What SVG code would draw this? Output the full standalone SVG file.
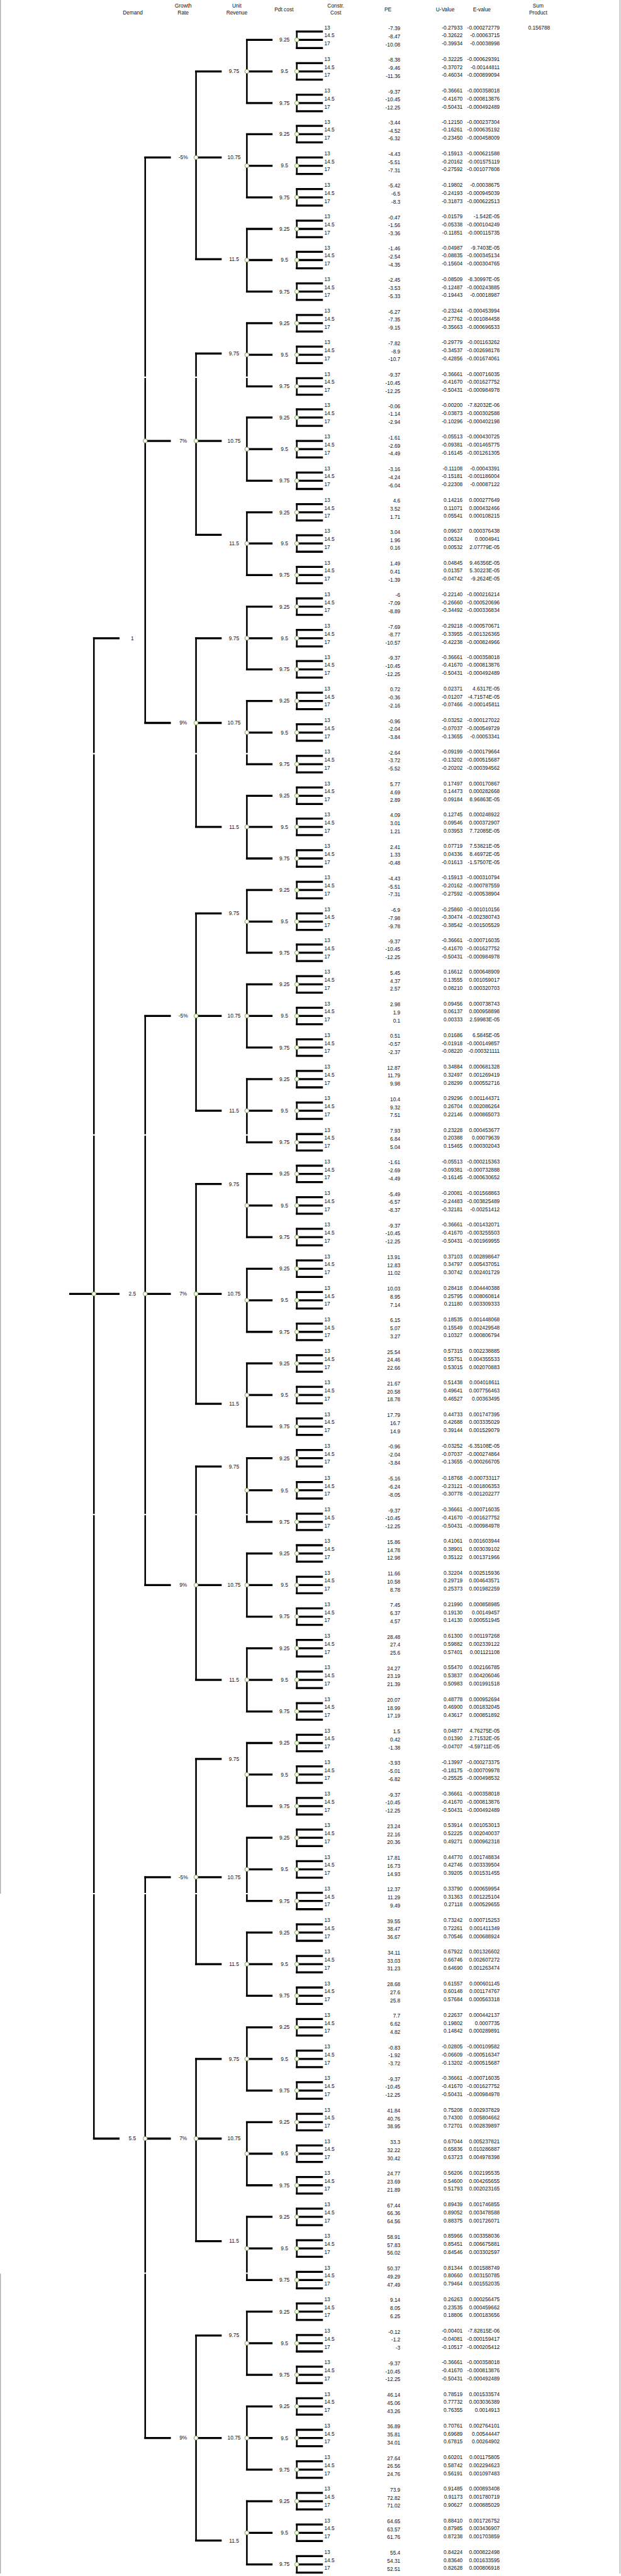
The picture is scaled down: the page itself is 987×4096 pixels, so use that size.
<svg xmlns="http://www.w3.org/2000/svg" xmlns:xlink="http://www.w3.org/1999/xlink" width="987" height="4096" viewBox="0 0 987 4096">
<style>
.h{stroke:#000;stroke-width:4.5;fill:none}
.v{stroke:#000;stroke-width:3.5;fill:none;stroke-linecap:square}
.nd{fill:#fff;stroke:#6f9a3f;stroke-width:1.3}
text{font-family:"Liberation Sans",Arial,sans-serif;font-size:11.5px;fill:#111}
.m{text-anchor:middle}
.e{text-anchor:end}
</style>
<defs>
<g id="br"><path class="h" d="M537 27H595M646 9H705M646 27H705M646 45H705"/><path class="v" d="M648 9V45"/></g>
</defs>
<rect width="987" height="4096" fill="#fff"/>
<g transform="scale(0.728)">
<path d="M1 0V4136M1 4966V5621M1353.5 0V5621" stroke="#9a9a9a" stroke-width="1.5" fill="none"/>
<g id="header">
<text class="m" x="290" y="32">Demand</text>
<text class="m" x="400" y="17">Growth</text><text class="m" x="400" y="32">Rate</text>
<text class="m" x="517" y="17">Unit</text><text class="m" x="517" y="32">Revenue</text>
<text class="m" x="620" y="25">Pdt cost</text>
<text class="m" x="733" y="17">Constr.</text><text class="m" x="733" y="32">Cost</text>
<text class="m" x="847" y="25">PE</text>
<text class="m" x="972" y="25">U-Value</text>
<text class="m" x="1052" y="25">E-value</text>
<text class="m" x="1175" y="17">Sum</text><text class="m" x="1175" y="32">Product</text>
<text class="m" x="1177" y="64">0.156788</text>
</g>
<g id="connectors">
<path class="h" d="M151 2826H261M203 1394H261M203 4671H261M315 344H373M315 963H373M315 1579H373M315 2219H373M315 2826H373M315 3462H373M315 4100H373M315 4671H373M315 5325H373M426 156H484M426 344H484M426 566H484M426 772H484M426 963H484M426 1168H484M426 1394H484M426 1579H484M426 1806H484M426 1995H484M426 2219H484M426 2426H484M426 2586H484M426 2826H484M426 3066H484M426 3203H484M426 3462H484M426 3669H484M426 3842H484M426 4100H484M426 4290H484M426 4497H484M426 4671H484M426 4895H484M426 5101H484M426 5325H484M426 5549H484"/>
<path class="v" d="M205 1394V4671M317 344V1579M317 2219V3462M317 4100V5325M428 156V566M428 772V1168M428 1394V1806M428 1995V2426M428 2586V3066M428 3203V3669M428 3842V4290M428 4497V4895M428 5101V5549M539 87V225M539 293V431M539 500V637M539 706V844M539 912V1050M539 1119V1256M539 1325V1462M539 1531V1669M539 1738V1875M539 1944V2081M539 2150V2288M539 2357V2495M539 2564V2702M539 2771V2909M539 2978V3116M539 3185V3324M539 3393V3531M539 3600V3738M539 3807V3945M539 4014V4152M539 4221V4359M539 4428V4566M539 4635V4773M539 4842V4980M539 5049V5187M539 5256V5394M539 5463V5601"/>
<use href="#br" y="60"/><use href="#br" y="129"/><use href="#br" y="198"/><use href="#br" y="266"/><use href="#br" y="335"/><use href="#br" y="404"/><use href="#br" y="473"/><use href="#br" y="541"/><use href="#br" y="610"/>
<use href="#br" y="679"/><use href="#br" y="748"/><use href="#br" y="817"/><use href="#br" y="885"/><use href="#br" y="954"/><use href="#br" y="1023"/><use href="#br" y="1092"/><use href="#br" y="1160"/><use href="#br" y="1229"/>
<use href="#br" y="1298"/><use href="#br" y="1367"/><use href="#br" y="1435"/><use href="#br" y="1504"/><use href="#br" y="1573"/><use href="#br" y="1642"/><use href="#br" y="1711"/><use href="#br" y="1779"/><use href="#br" y="1848"/>
<use href="#br" y="1917"/><use href="#br" y="1986"/><use href="#br" y="2054"/><use href="#br" y="2123"/><use href="#br" y="2192"/><use href="#br" y="2261"/><use href="#br" y="2330"/><use href="#br" y="2399"/><use href="#br" y="2468"/>
<use href="#br" y="2537"/><use href="#br" y="2606"/><use href="#br" y="2675"/><use href="#br" y="2744"/><use href="#br" y="2813"/><use href="#br" y="2882"/><use href="#br" y="2951"/><use href="#br" y="3020"/><use href="#br" y="3089"/>
<use href="#br" y="3158"/><use href="#br" y="3228"/><use href="#br" y="3297"/><use href="#br" y="3366"/><use href="#br" y="3435"/><use href="#br" y="3504"/><use href="#br" y="3573"/><use href="#br" y="3642"/><use href="#br" y="3711"/>
<use href="#br" y="3780"/><use href="#br" y="3849"/><use href="#br" y="3918"/><use href="#br" y="3987"/><use href="#br" y="4056"/><use href="#br" y="4125"/><use href="#br" y="4194"/><use href="#br" y="4263"/><use href="#br" y="4332"/>
<use href="#br" y="4401"/><use href="#br" y="4470"/><use href="#br" y="4539"/><use href="#br" y="4608"/><use href="#br" y="4677"/><use href="#br" y="4746"/><use href="#br" y="4815"/><use href="#br" y="4884"/><use href="#br" y="4953"/>
<use href="#br" y="5022"/><use href="#br" y="5091"/><use href="#br" y="5160"/><use href="#br" y="5229"/><use href="#br" y="5298"/><use href="#br" y="5367"/><use href="#br" y="5436"/><use href="#br" y="5505"/><use href="#br" y="5574"/>
<path d="M195 824h350M195 1646h350M195 2479h350M195 3308h350M195 4136h350M195 4965h350" stroke="#fff" stroke-width="3"/>
</g>
<g id="root"><circle class="nd" cx="205" cy="2826" r="4.5"/></g>
<g id="d1"><circle class="nd" cx="317" cy="963" r="4.5"/><text class="m" x="289" y="1398">1</text></g>
<g id="d2"><circle class="nd" cx="317" cy="2826" r="4.5"/><text class="m" x="289" y="2830">2.5</text></g>
<g id="d3"><circle class="nd" cx="317" cy="4671" r="4.5"/><text class="m" x="289" y="4675">5.5</text></g>
<g id="g1"><circle class="nd" cx="428" cy="344" r="4.5"/><text class="m" x="400" y="348">-5%</text></g>
<g id="g2"><circle class="nd" cx="428" cy="963" r="4.5"/><text class="m" x="400" y="967">7%</text></g>
<g id="g3"><circle class="nd" cx="428" cy="1579" r="4.5"/><text class="m" x="400" y="1583">9%</text></g>
<g id="g4"><circle class="nd" cx="428" cy="2219" r="4.5"/><text class="m" x="400" y="2223">-5%</text></g>
<g id="g5"><circle class="nd" cx="428" cy="2826" r="4.5"/><text class="m" x="400" y="2830">7%</text></g>
<g id="g6"><circle class="nd" cx="428" cy="3462" r="4.5"/><text class="m" x="400" y="3466">9%</text></g>
<g id="g7"><circle class="nd" cx="428" cy="4100" r="4.5"/><text class="m" x="400" y="4104">-5%</text></g>
<g id="g8"><circle class="nd" cx="428" cy="4671" r="4.5"/><text class="m" x="400" y="4675">7%</text></g>
<g id="g9"><circle class="nd" cx="428" cy="5325" r="4.5"/><text class="m" x="400" y="5329">9%</text></g>
<g id="u1"><circle class="nd" cx="539" cy="156" r="4.5"/><text class="m" x="511" y="160">9.75</text></g>
<g id="u2"><circle class="nd" cx="539" cy="362" r="4.5"/><text class="m" x="511" y="348">10.75</text></g>
<g id="u3"><circle class="nd" cx="539" cy="568" r="4.5"/><text class="m" x="511" y="570">11.5</text></g>
<g id="u4"><circle class="nd" cx="539" cy="775" r="4.5"/><text class="m" x="511" y="776">9.75</text></g>
<g id="u5"><circle class="nd" cx="539" cy="981" r="4.5"/><text class="m" x="511" y="967">10.75</text></g>
<g id="u6"><circle class="nd" cx="539" cy="1187" r="4.5"/><text class="m" x="511" y="1191">11.5</text></g>
<g id="u7"><circle class="nd" cx="539" cy="1394" r="4.5"/><text class="m" x="511" y="1398">9.75</text></g>
<g id="u8"><circle class="nd" cx="539" cy="1600" r="4.5"/><text class="m" x="511" y="1583">10.75</text></g>
<g id="u9"><circle class="nd" cx="539" cy="1806" r="4.5"/><text class="m" x="511" y="1810">11.5</text></g>
<g id="u10"><circle class="nd" cx="539" cy="2013" r="4.5"/><text class="m" x="511" y="1999">9.75</text></g>
<g id="u11"><circle class="nd" cx="539" cy="2219" r="4.5"/><text class="m" x="511" y="2223">10.75</text></g>
<g id="u12"><circle class="nd" cx="539" cy="2426" r="4.5"/><text class="m" x="511" y="2430">11.5</text></g>
<g id="u13"><circle class="nd" cx="539" cy="2633" r="4.5"/><text class="m" x="511" y="2590">9.75</text></g>
<g id="u14"><circle class="nd" cx="539" cy="2840" r="4.5"/><text class="m" x="511" y="2830">10.75</text></g>
<g id="u15"><circle class="nd" cx="539" cy="3047" r="4.5"/><text class="m" x="511" y="3070">11.5</text></g>
<g id="u16"><circle class="nd" cx="539" cy="3255" r="4.5"/><text class="m" x="511" y="3207">9.75</text></g>
<g id="u17"><circle class="nd" cx="539" cy="3462" r="4.5"/><text class="m" x="511" y="3466">10.75</text></g>
<g id="u18"><circle class="nd" cx="539" cy="3669" r="4.5"/><text class="m" x="511" y="3673">11.5</text></g>
<g id="u19"><circle class="nd" cx="539" cy="3876" r="4.5"/><text class="m" x="511" y="3846">9.75</text></g>
<g id="u20"><circle class="nd" cx="539" cy="4083" r="4.5"/><text class="m" x="511" y="4104">10.75</text></g>
<g id="u21"><circle class="nd" cx="539" cy="4290" r="4.5"/><text class="m" x="511" y="4294">11.5</text></g>
<g id="u22"><circle class="nd" cx="539" cy="4497" r="4.5"/><text class="m" x="511" y="4501">9.75</text></g>
<g id="u23"><circle class="nd" cx="539" cy="4704" r="4.5"/><text class="m" x="511" y="4675">10.75</text></g>
<g id="u24"><circle class="nd" cx="539" cy="4911" r="4.5"/><text class="m" x="511" y="4899">11.5</text></g>
<g id="u25"><circle class="nd" cx="539" cy="5118" r="4.5"/><text class="m" x="511" y="5105">9.75</text></g>
<g id="u26"><circle class="nd" cx="539" cy="5325" r="4.5"/><text class="m" x="511" y="5329">10.75</text></g>
<g id="u27"><circle class="nd" cx="539" cy="5532" r="4.5"/><text class="m" x="511" y="5553">11.5</text></g>
<g id="p0" transform="translate(0 60)"><circle class="nd" cx="648" cy="27" r="4.5"/><text class="m" x="621" y="31">9.25</text><text x="708" y="4">13<tspan x="708" y="21.5">14.5</tspan><tspan x="708" y="39">17</tspan></text><text class="e" x="874" y="6">-7.39<tspan x="874" y="23.5">-8.47</tspan><tspan x="874" y="41">-10.08</tspan></text><text class="e" x="1010" y="4">-0.27933<tspan x="1010" y="21.5">-0.32622</tspan><tspan x="1010" y="39">-0.39934</tspan></text><text class="e" x="1091" y="4">-0.000272779<tspan x="1091" y="21.5">-0.00063715</tspan><tspan x="1091" y="39">-0.00038998</tspan></text></g>
<g id="p1" transform="translate(0 129)"><circle class="nd" cx="648" cy="27" r="4.5"/><text class="m" x="621" y="31">9.5</text><text x="708" y="4">13<tspan x="708" y="21.5">14.5</tspan><tspan x="708" y="39">17</tspan></text><text class="e" x="874" y="6">-8.38<tspan x="874" y="23.5">-9.46</tspan><tspan x="874" y="41">-11.36</tspan></text><text class="e" x="1010" y="4">-0.32225<tspan x="1010" y="21.5">-0.37072</tspan><tspan x="1010" y="39">-0.46034</tspan></text><text class="e" x="1091" y="4">-0.000629391<tspan x="1091" y="21.5">-0.00144811</tspan><tspan x="1091" y="39">-0.000899094</tspan></text></g>
<g id="p2" transform="translate(0 198)"><circle class="nd" cx="648" cy="27" r="4.5"/><text class="m" x="621" y="31">9.75</text><text x="708" y="4">13<tspan x="708" y="21.5">14.5</tspan><tspan x="708" y="39">17</tspan></text><text class="e" x="874" y="6">-9.37<tspan x="874" y="23.5">-10.45</tspan><tspan x="874" y="41">-12.25</tspan></text><text class="e" x="1010" y="4">-0.36661<tspan x="1010" y="21.5">-0.41670</tspan><tspan x="1010" y="39">-0.50431</tspan></text><text class="e" x="1091" y="4">-0.000358018<tspan x="1091" y="21.5">-0.000813876</tspan><tspan x="1091" y="39">-0.000492489</tspan></text></g>
<g id="p3" transform="translate(0 266)"><circle class="nd" cx="648" cy="27" r="4.5"/><text class="m" x="621" y="31">9.25</text><text x="708" y="4">13<tspan x="708" y="21.5">14.5</tspan><tspan x="708" y="39">17</tspan></text><text class="e" x="874" y="6">-3.44<tspan x="874" y="23.5">-4.52</tspan><tspan x="874" y="41">-6.32</tspan></text><text class="e" x="1010" y="4">-0.12150<tspan x="1010" y="21.5">-0.16261</tspan><tspan x="1010" y="39">-0.23450</tspan></text><text class="e" x="1091" y="4">-0.000237304<tspan x="1091" y="21.5">-0.000635192</tspan><tspan x="1091" y="39">-0.000458009</tspan></text></g>
<g id="p4" transform="translate(0 335)"><circle class="nd" cx="648" cy="27" r="4.5"/><text class="m" x="621" y="31">9.5</text><text x="708" y="4">13<tspan x="708" y="21.5">14.5</tspan><tspan x="708" y="39">17</tspan></text><text class="e" x="874" y="6">-4.43<tspan x="874" y="23.5">-5.51</tspan><tspan x="874" y="41">-7.31</tspan></text><text class="e" x="1010" y="4">-0.15913<tspan x="1010" y="21.5">-0.20162</tspan><tspan x="1010" y="39">-0.27592</tspan></text><text class="e" x="1091" y="4">-0.000621588<tspan x="1091" y="21.5">-0.001575119</tspan><tspan x="1091" y="39">-0.001077808</tspan></text></g>
<g id="p5" transform="translate(0 404)"><circle class="nd" cx="648" cy="27" r="4.5"/><text class="m" x="621" y="31">9.75</text><text x="708" y="4">13<tspan x="708" y="21.5">14.5</tspan><tspan x="708" y="39">17</tspan></text><text class="e" x="874" y="6">-5.42<tspan x="874" y="23.5">-6.5</tspan><tspan x="874" y="41">-8.3</tspan></text><text class="e" x="1010" y="4">-0.19802<tspan x="1010" y="21.5">-0.24193</tspan><tspan x="1010" y="39">-0.31873</tspan></text><text class="e" x="1091" y="4">-0.00038675<tspan x="1091" y="21.5">-0.000945039</tspan><tspan x="1091" y="39">-0.000622513</tspan></text></g>
<g id="p6" transform="translate(0 473)"><circle class="nd" cx="648" cy="27" r="4.5"/><text class="m" x="621" y="31">9.25</text><text x="708" y="4">13<tspan x="708" y="21.5">14.5</tspan><tspan x="708" y="39">17</tspan></text><text class="e" x="874" y="6">-0.47<tspan x="874" y="23.5">-1.56</tspan><tspan x="874" y="41">-3.36</tspan></text><text class="e" x="1010" y="4">-0.01579<tspan x="1010" y="21.5">-0.05338</tspan><tspan x="1010" y="39">-0.11851</tspan></text><text class="e" x="1091" y="4">-1.542E-05<tspan x="1091" y="21.5">-0.000104249</tspan><tspan x="1091" y="39">-0.000115735</tspan></text></g>
<g id="p7" transform="translate(0 541)"><circle class="nd" cx="648" cy="27" r="4.5"/><text class="m" x="621" y="31">9.5</text><text x="708" y="4">13<tspan x="708" y="21.5">14.5</tspan><tspan x="708" y="39">17</tspan></text><text class="e" x="874" y="6">-1.46<tspan x="874" y="23.5">-2.54</tspan><tspan x="874" y="41">-4.35</tspan></text><text class="e" x="1010" y="4">-0.04987<tspan x="1010" y="21.5">-0.08835</tspan><tspan x="1010" y="39">-0.15604</tspan></text><text class="e" x="1091" y="4">-9.7403E-05<tspan x="1091" y="21.5">-0.000345134</tspan><tspan x="1091" y="39">-0.000304765</tspan></text></g>
<g id="p8" transform="translate(0 610)"><circle class="nd" cx="648" cy="27" r="4.5"/><text class="m" x="621" y="31">9.75</text><text x="708" y="4">13<tspan x="708" y="21.5">14.5</tspan><tspan x="708" y="39">17</tspan></text><text class="e" x="874" y="6">-2.45<tspan x="874" y="23.5">-3.53</tspan><tspan x="874" y="41">-5.33</tspan></text><text class="e" x="1010" y="4">-0.08509<tspan x="1010" y="21.5">-0.12487</tspan><tspan x="1010" y="39">-0.19443</tspan></text><text class="e" x="1091" y="4">-8.30997E-05<tspan x="1091" y="21.5">-0.000243885</tspan><tspan x="1091" y="39">-0.00018987</tspan></text></g>
<g id="p9" transform="translate(0 679)"><circle class="nd" cx="648" cy="27" r="4.5"/><text class="m" x="621" y="31">9.25</text><text x="708" y="4">13<tspan x="708" y="21.5">14.5</tspan><tspan x="708" y="39">17</tspan></text><text class="e" x="874" y="6">-6.27<tspan x="874" y="23.5">-7.35</tspan><tspan x="874" y="41">-9.15</tspan></text><text class="e" x="1010" y="4">-0.23244<tspan x="1010" y="21.5">-0.27762</tspan><tspan x="1010" y="39">-0.35663</tspan></text><text class="e" x="1091" y="4">-0.000453994<tspan x="1091" y="21.5">-0.001084458</tspan><tspan x="1091" y="39">-0.000696533</tspan></text></g>
<g id="p10" transform="translate(0 748)"><circle class="nd" cx="648" cy="27" r="4.5"/><text class="m" x="621" y="31">9.5</text><text x="708" y="4">13<tspan x="708" y="21.5">14.5</tspan><tspan x="708" y="39">17</tspan></text><text class="e" x="874" y="6">-7.82<tspan x="874" y="23.5">-8.9</tspan><tspan x="874" y="41">-10.7</tspan></text><text class="e" x="1010" y="4">-0.29779<tspan x="1010" y="21.5">-0.34537</tspan><tspan x="1010" y="39">-0.42856</tspan></text><text class="e" x="1091" y="4">-0.001163262<tspan x="1091" y="21.5">-0.002698178</tspan><tspan x="1091" y="39">-0.001674061</tspan></text></g>
<g id="p11" transform="translate(0 817)"><circle class="nd" cx="648" cy="27" r="4.5"/><text class="m" x="621" y="31">9.75</text><text x="708" y="4">13<tspan x="708" y="21.5">14.5</tspan><tspan x="708" y="39">17</tspan></text><text class="e" x="874" y="6">-9.37<tspan x="874" y="23.5">-10.45</tspan><tspan x="874" y="41">-12.25</tspan></text><text class="e" x="1010" y="4">-0.36661<tspan x="1010" y="21.5">-0.41670</tspan><tspan x="1010" y="39">-0.50431</tspan></text><text class="e" x="1091" y="4">-0.000716035<tspan x="1091" y="21.5">-0.001627752</tspan><tspan x="1091" y="39">-0.000984978</tspan></text></g>
<g id="p12" transform="translate(0 885)"><circle class="nd" cx="648" cy="27" r="4.5"/><text class="m" x="621" y="31">9.25</text><text x="708" y="4">13<tspan x="708" y="21.5">14.5</tspan><tspan x="708" y="39">17</tspan></text><text class="e" x="874" y="6">-0.06<tspan x="874" y="23.5">-1.14</tspan><tspan x="874" y="41">-2.94</tspan></text><text class="e" x="1010" y="4">-0.00200<tspan x="1010" y="21.5">-0.03873</tspan><tspan x="1010" y="39">-0.10296</tspan></text><text class="e" x="1091" y="4">-7.82032E-06<tspan x="1091" y="21.5">-0.000302588</tspan><tspan x="1091" y="39">-0.000402198</tspan></text></g>
<g id="p13" transform="translate(0 954)"><circle class="nd" cx="648" cy="27" r="4.5"/><text class="m" x="621" y="31">9.5</text><text x="708" y="4">13<tspan x="708" y="21.5">14.5</tspan><tspan x="708" y="39">17</tspan></text><text class="e" x="874" y="6">-1.61<tspan x="874" y="23.5">-2.69</tspan><tspan x="874" y="41">-4.49</tspan></text><text class="e" x="1010" y="4">-0.05513<tspan x="1010" y="21.5">-0.09381</tspan><tspan x="1010" y="39">-0.16145</tspan></text><text class="e" x="1091" y="4">-0.000430725<tspan x="1091" y="21.5">-0.001465775</tspan><tspan x="1091" y="39">-0.001261305</tspan></text></g>
<g id="p14" transform="translate(0 1023)"><circle class="nd" cx="648" cy="27" r="4.5"/><text class="m" x="621" y="31">9.75</text><text x="708" y="4">13<tspan x="708" y="21.5">14.5</tspan><tspan x="708" y="39">17</tspan></text><text class="e" x="874" y="6">-3.16<tspan x="874" y="23.5">-4.24</tspan><tspan x="874" y="41">-6.04</tspan></text><text class="e" x="1010" y="4">-0.11108<tspan x="1010" y="21.5">-0.15181</tspan><tspan x="1010" y="39">-0.22308</tspan></text><text class="e" x="1091" y="4">-0.00043391<tspan x="1091" y="21.5">-0.001186004</tspan><tspan x="1091" y="39">-0.00087122</tspan></text></g>
<g id="p15" transform="translate(0 1092)"><circle class="nd" cx="648" cy="27" r="4.5"/><text class="m" x="621" y="31">9.25</text><text x="708" y="4">13<tspan x="708" y="21.5">14.5</tspan><tspan x="708" y="39">17</tspan></text><text class="e" x="874" y="6">4.6<tspan x="874" y="23.5">3.52</tspan><tspan x="874" y="41">1.71</tspan></text><text class="e" x="1010" y="4">0.14216<tspan x="1010" y="21.5">0.11071</tspan><tspan x="1010" y="39">0.05541</tspan></text><text class="e" x="1091" y="4">0.000277649<tspan x="1091" y="21.5">0.000432466</tspan><tspan x="1091" y="39">0.000108215</tspan></text></g>
<g id="p16" transform="translate(0 1160)"><circle class="nd" cx="648" cy="27" r="4.5"/><text class="m" x="621" y="31">9.5</text><text x="708" y="4">13<tspan x="708" y="21.5">14.5</tspan><tspan x="708" y="39">17</tspan></text><text class="e" x="874" y="6">3.04<tspan x="874" y="23.5">1.96</tspan><tspan x="874" y="41">0.16</tspan></text><text class="e" x="1010" y="4">0.09637<tspan x="1010" y="21.5">0.06324</tspan><tspan x="1010" y="39">0.00532</tspan></text><text class="e" x="1091" y="4">0.000376438<tspan x="1091" y="21.5">0.0004941</tspan><tspan x="1091" y="39">2.07779E-05</tspan></text></g>
<g id="p17" transform="translate(0 1229)"><circle class="nd" cx="648" cy="27" r="4.5"/><text class="m" x="621" y="31">9.75</text><text x="708" y="4">13<tspan x="708" y="21.5">14.5</tspan><tspan x="708" y="39">17</tspan></text><text class="e" x="874" y="6">1.49<tspan x="874" y="23.5">0.41</tspan><tspan x="874" y="41">-1.39</tspan></text><text class="e" x="1010" y="4">0.04845<tspan x="1010" y="21.5">0.01357</tspan><tspan x="1010" y="39">-0.04742</tspan></text><text class="e" x="1091" y="4">9.46356E-05<tspan x="1091" y="21.5">5.30223E-05</tspan><tspan x="1091" y="39">-9.2624E-05</tspan></text></g>
<g id="p18" transform="translate(0 1298)"><circle class="nd" cx="648" cy="27" r="4.5"/><text class="m" x="621" y="31">9.25</text><text x="708" y="4">13<tspan x="708" y="21.5">14.5</tspan><tspan x="708" y="39">17</tspan></text><text class="e" x="874" y="6">-6<tspan x="874" y="23.5">-7.09</tspan><tspan x="874" y="41">-8.89</tspan></text><text class="e" x="1010" y="4">-0.22140<tspan x="1010" y="21.5">-0.26660</tspan><tspan x="1010" y="39">-0.34492</tspan></text><text class="e" x="1091" y="4">-0.000216214<tspan x="1091" y="21.5">-0.000520696</tspan><tspan x="1091" y="39">-0.000336834</tspan></text></g>
<g id="p19" transform="translate(0 1367)"><circle class="nd" cx="648" cy="27" r="4.5"/><text class="m" x="621" y="31">9.5</text><text x="708" y="4">13<tspan x="708" y="21.5">14.5</tspan><tspan x="708" y="39">17</tspan></text><text class="e" x="874" y="6">-7.69<tspan x="874" y="23.5">-8.77</tspan><tspan x="874" y="41">-10.57</tspan></text><text class="e" x="1010" y="4">-0.29218<tspan x="1010" y="21.5">-0.33955</tspan><tspan x="1010" y="39">-0.42238</tspan></text><text class="e" x="1091" y="4">-0.000570671<tspan x="1091" y="21.5">-0.001326365</tspan><tspan x="1091" y="39">-0.000824966</tspan></text></g>
<g id="p20" transform="translate(0 1435)"><circle class="nd" cx="648" cy="27" r="4.5"/><text class="m" x="621" y="31">9.75</text><text x="708" y="4">13<tspan x="708" y="21.5">14.5</tspan><tspan x="708" y="39">17</tspan></text><text class="e" x="874" y="6">-9.37<tspan x="874" y="23.5">-10.45</tspan><tspan x="874" y="41">-12.25</tspan></text><text class="e" x="1010" y="4">-0.36661<tspan x="1010" y="21.5">-0.41670</tspan><tspan x="1010" y="39">-0.50431</tspan></text><text class="e" x="1091" y="4">-0.000358018<tspan x="1091" y="21.5">-0.000813876</tspan><tspan x="1091" y="39">-0.000492489</tspan></text></g>
<g id="p21" transform="translate(0 1504)"><circle class="nd" cx="648" cy="27" r="4.5"/><text class="m" x="621" y="31">9.25</text><text x="708" y="4">13<tspan x="708" y="21.5">14.5</tspan><tspan x="708" y="39">17</tspan></text><text class="e" x="874" y="6">0.72<tspan x="874" y="23.5">-0.36</tspan><tspan x="874" y="41">-2.16</tspan></text><text class="e" x="1010" y="4">0.02371<tspan x="1010" y="21.5">-0.01207</tspan><tspan x="1010" y="39">-0.07466</tspan></text><text class="e" x="1091" y="4">4.6317E-05<tspan x="1091" y="21.5">-4.71574E-05</tspan><tspan x="1091" y="39">-0.000145811</tspan></text></g>
<g id="p22" transform="translate(0 1573)"><circle class="nd" cx="648" cy="27" r="4.5"/><text class="m" x="621" y="31">9.5</text><text x="708" y="4">13<tspan x="708" y="21.5">14.5</tspan><tspan x="708" y="39">17</tspan></text><text class="e" x="874" y="6">-0.96<tspan x="874" y="23.5">-2.04</tspan><tspan x="874" y="41">-3.84</tspan></text><text class="e" x="1010" y="4">-0.03252<tspan x="1010" y="21.5">-0.07037</tspan><tspan x="1010" y="39">-0.13655</tspan></text><text class="e" x="1091" y="4">-0.000127022<tspan x="1091" y="21.5">-0.000549729</tspan><tspan x="1091" y="39">-0.00053341</tspan></text></g>
<g id="p23" transform="translate(0 1642)"><circle class="nd" cx="648" cy="27" r="4.5"/><text class="m" x="621" y="31">9.75</text><text x="708" y="4">13<tspan x="708" y="21.5">14.5</tspan><tspan x="708" y="39">17</tspan></text><text class="e" x="874" y="6">-2.64<tspan x="874" y="23.5">-3.72</tspan><tspan x="874" y="41">-5.52</tspan></text><text class="e" x="1010" y="4">-0.09199<tspan x="1010" y="21.5">-0.13202</tspan><tspan x="1010" y="39">-0.20202</tspan></text><text class="e" x="1091" y="4">-0.000179664<tspan x="1091" y="21.5">-0.000515687</tspan><tspan x="1091" y="39">-0.000394562</tspan></text></g>
<g id="p24" transform="translate(0 1711)"><circle class="nd" cx="648" cy="27" r="4.5"/><text class="m" x="621" y="31">9.25</text><text x="708" y="4">13<tspan x="708" y="21.5">14.5</tspan><tspan x="708" y="39">17</tspan></text><text class="e" x="874" y="6">5.77<tspan x="874" y="23.5">4.69</tspan><tspan x="874" y="41">2.89</tspan></text><text class="e" x="1010" y="4">0.17497<tspan x="1010" y="21.5">0.14473</tspan><tspan x="1010" y="39">0.09184</tspan></text><text class="e" x="1091" y="4">0.000170867<tspan x="1091" y="21.5">0.000282668</tspan><tspan x="1091" y="39">8.96863E-05</tspan></text></g>
<g id="p25" transform="translate(0 1779)"><circle class="nd" cx="648" cy="27" r="4.5"/><text class="m" x="621" y="31">9.5</text><text x="708" y="4">13<tspan x="708" y="21.5">14.5</tspan><tspan x="708" y="39">17</tspan></text><text class="e" x="874" y="6">4.09<tspan x="874" y="23.5">3.01</tspan><tspan x="874" y="41">1.21</tspan></text><text class="e" x="1010" y="4">0.12745<tspan x="1010" y="21.5">0.09546</tspan><tspan x="1010" y="39">0.03953</tspan></text><text class="e" x="1091" y="4">0.000248922<tspan x="1091" y="21.5">0.000372907</tspan><tspan x="1091" y="39">7.72085E-05</tspan></text></g>
<g id="p26" transform="translate(0 1848)"><circle class="nd" cx="648" cy="27" r="4.5"/><text class="m" x="621" y="31">9.75</text><text x="708" y="4">13<tspan x="708" y="21.5">14.5</tspan><tspan x="708" y="39">17</tspan></text><text class="e" x="874" y="6">2.41<tspan x="874" y="23.5">1.33</tspan><tspan x="874" y="41">-0.48</tspan></text><text class="e" x="1010" y="4">0.07719<tspan x="1010" y="21.5">0.04336</tspan><tspan x="1010" y="39">-0.01613</tspan></text><text class="e" x="1091" y="4">7.53821E-05<tspan x="1091" y="21.5">8.46972E-05</tspan><tspan x="1091" y="39">-1.57507E-05</tspan></text></g>
<g id="p27" transform="translate(0 1917)"><circle class="nd" cx="648" cy="27" r="4.5"/><text class="m" x="621" y="31">9.25</text><text x="708" y="4">13<tspan x="708" y="21.5">14.5</tspan><tspan x="708" y="39">17</tspan></text><text class="e" x="874" y="6">-4.43<tspan x="874" y="23.5">-5.51</tspan><tspan x="874" y="41">-7.31</tspan></text><text class="e" x="1010" y="4">-0.15913<tspan x="1010" y="21.5">-0.20162</tspan><tspan x="1010" y="39">-0.27592</tspan></text><text class="e" x="1091" y="4">-0.000310794<tspan x="1091" y="21.5">-0.000787559</tspan><tspan x="1091" y="39">-0.000538904</tspan></text></g>
<g id="p28" transform="translate(0 1986)"><circle class="nd" cx="648" cy="27" r="4.5"/><text class="m" x="621" y="31">9.5</text><text x="708" y="4">13<tspan x="708" y="21.5">14.5</tspan><tspan x="708" y="39">17</tspan></text><text class="e" x="874" y="6">-6.9<tspan x="874" y="23.5">-7.98</tspan><tspan x="874" y="41">-9.78</tspan></text><text class="e" x="1010" y="4">-0.25860<tspan x="1010" y="21.5">-0.30474</tspan><tspan x="1010" y="39">-0.38542</tspan></text><text class="e" x="1091" y="4">-0.001010156<tspan x="1091" y="21.5">-0.002380743</tspan><tspan x="1091" y="39">-0.001505529</tspan></text></g>
<g id="p29" transform="translate(0 2054)"><circle class="nd" cx="648" cy="27" r="4.5"/><text class="m" x="621" y="31">9.75</text><text x="708" y="4">13<tspan x="708" y="21.5">14.5</tspan><tspan x="708" y="39">17</tspan></text><text class="e" x="874" y="6">-9.37<tspan x="874" y="23.5">-10.45</tspan><tspan x="874" y="41">-12.25</tspan></text><text class="e" x="1010" y="4">-0.36661<tspan x="1010" y="21.5">-0.41670</tspan><tspan x="1010" y="39">-0.50431</tspan></text><text class="e" x="1091" y="4">-0.000716035<tspan x="1091" y="21.5">-0.001627752</tspan><tspan x="1091" y="39">-0.000984978</tspan></text></g>
<g id="p30" transform="translate(0 2123)"><circle class="nd" cx="648" cy="27" r="4.5"/><text class="m" x="621" y="31">9.25</text><text x="708" y="4">13<tspan x="708" y="21.5">14.5</tspan><tspan x="708" y="39">17</tspan></text><text class="e" x="874" y="6">5.45<tspan x="874" y="23.5">4.37</tspan><tspan x="874" y="41">2.57</tspan></text><text class="e" x="1010" y="4">0.16612<tspan x="1010" y="21.5">0.13555</tspan><tspan x="1010" y="39">0.08210</tspan></text><text class="e" x="1091" y="4">0.000648909<tspan x="1091" y="21.5">0.001059017</tspan><tspan x="1091" y="39">0.000320703</tspan></text></g>
<g id="p31" transform="translate(0 2192)"><circle class="nd" cx="648" cy="27" r="4.5"/><text class="m" x="621" y="31">9.5</text><text x="708" y="4">13<tspan x="708" y="21.5">14.5</tspan><tspan x="708" y="39">17</tspan></text><text class="e" x="874" y="6">2.98<tspan x="874" y="23.5">1.9</tspan><tspan x="874" y="41">0.1</tspan></text><text class="e" x="1010" y="4">0.09456<tspan x="1010" y="21.5">0.06137</tspan><tspan x="1010" y="39">0.00333</tspan></text><text class="e" x="1091" y="4">0.000738743<tspan x="1091" y="21.5">0.000958898</tspan><tspan x="1091" y="39">2.59983E-05</tspan></text></g>
<g id="p32" transform="translate(0 2261)"><circle class="nd" cx="648" cy="27" r="4.5"/><text class="m" x="621" y="31">9.75</text><text x="708" y="4">13<tspan x="708" y="21.5">14.5</tspan><tspan x="708" y="39">17</tspan></text><text class="e" x="874" y="6">0.51<tspan x="874" y="23.5">-0.57</tspan><tspan x="874" y="41">-2.37</tspan></text><text class="e" x="1010" y="4">0.01686<tspan x="1010" y="21.5">-0.01918</tspan><tspan x="1010" y="39">-0.08220</tspan></text><text class="e" x="1091" y="4">6.5845E-05<tspan x="1091" y="21.5">-0.000149857</tspan><tspan x="1091" y="39">-0.000321111</tspan></text></g>
<g id="p33" transform="translate(0 2330)"><circle class="nd" cx="648" cy="27" r="4.5"/><text class="m" x="621" y="31">9.25</text><text x="708" y="4">13<tspan x="708" y="21.5">14.5</tspan><tspan x="708" y="39">17</tspan></text><text class="e" x="874" y="6">12.87<tspan x="874" y="23.5">11.79</tspan><tspan x="874" y="41">9.98</tspan></text><text class="e" x="1010" y="4">0.34884<tspan x="1010" y="21.5">0.32497</tspan><tspan x="1010" y="39">0.28299</tspan></text><text class="e" x="1091" y="4">0.000681328<tspan x="1091" y="21.5">0.001269419</tspan><tspan x="1091" y="39">0.000552716</tspan></text></g>
<g id="p34" transform="translate(0 2399)"><circle class="nd" cx="648" cy="27" r="4.5"/><text class="m" x="621" y="31">9.5</text><text x="708" y="4">13<tspan x="708" y="21.5">14.5</tspan><tspan x="708" y="39">17</tspan></text><text class="e" x="874" y="6">10.4<tspan x="874" y="23.5">9.32</tspan><tspan x="874" y="41">7.51</tspan></text><text class="e" x="1010" y="4">0.29296<tspan x="1010" y="21.5">0.26704</tspan><tspan x="1010" y="39">0.22146</tspan></text><text class="e" x="1091" y="4">0.001144371<tspan x="1091" y="21.5">0.002086264</tspan><tspan x="1091" y="39">0.000865073</tspan></text></g>
<g id="p35" transform="translate(0 2468)"><circle class="nd" cx="648" cy="27" r="4.5"/><text class="m" x="621" y="31">9.75</text><text x="708" y="4">13<tspan x="708" y="21.5">14.5</tspan><tspan x="708" y="39">17</tspan></text><text class="e" x="874" y="6">7.93<tspan x="874" y="23.5">6.84</tspan><tspan x="874" y="41">5.04</tspan></text><text class="e" x="1010" y="4">0.23228<tspan x="1010" y="21.5">0.20388</tspan><tspan x="1010" y="39">0.15465</tspan></text><text class="e" x="1091" y="4">0.000453677<tspan x="1091" y="21.5">0.00079639</tspan><tspan x="1091" y="39">0.000302043</tspan></text></g>
<g id="p36" transform="translate(0 2537)"><circle class="nd" cx="648" cy="27" r="4.5"/><text class="m" x="621" y="31">9.25</text><text x="708" y="4">13<tspan x="708" y="21.5">14.5</tspan><tspan x="708" y="39">17</tspan></text><text class="e" x="874" y="6">-1.61<tspan x="874" y="23.5">-2.69</tspan><tspan x="874" y="41">-4.49</tspan></text><text class="e" x="1010" y="4">-0.05513<tspan x="1010" y="21.5">-0.09381</tspan><tspan x="1010" y="39">-0.16145</tspan></text><text class="e" x="1091" y="4">-0.000215363<tspan x="1091" y="21.5">-0.000732888</tspan><tspan x="1091" y="39">-0.000630652</tspan></text></g>
<g id="p37" transform="translate(0 2606)"><circle class="nd" cx="648" cy="27" r="4.5"/><text class="m" x="621" y="31">9.5</text><text x="708" y="4">13<tspan x="708" y="21.5">14.5</tspan><tspan x="708" y="39">17</tspan></text><text class="e" x="874" y="6">-5.49<tspan x="874" y="23.5">-6.57</tspan><tspan x="874" y="41">-8.37</tspan></text><text class="e" x="1010" y="4">-0.20081<tspan x="1010" y="21.5">-0.24483</tspan><tspan x="1010" y="39">-0.32181</tspan></text><text class="e" x="1091" y="4">-0.001568863<tspan x="1091" y="21.5">-0.003825489</tspan><tspan x="1091" y="39">-0.00251412</tspan></text></g>
<g id="p38" transform="translate(0 2675)"><circle class="nd" cx="648" cy="27" r="4.5"/><text class="m" x="621" y="31">9.75</text><text x="708" y="4">13<tspan x="708" y="21.5">14.5</tspan><tspan x="708" y="39">17</tspan></text><text class="e" x="874" y="6">-9.37<tspan x="874" y="23.5">-10.45</tspan><tspan x="874" y="41">-12.25</tspan></text><text class="e" x="1010" y="4">-0.36661<tspan x="1010" y="21.5">-0.41670</tspan><tspan x="1010" y="39">-0.50431</tspan></text><text class="e" x="1091" y="4">-0.001432071<tspan x="1091" y="21.5">-0.003255503</tspan><tspan x="1091" y="39">-0.001969955</tspan></text></g>
<g id="p39" transform="translate(0 2744)"><circle class="nd" cx="648" cy="27" r="4.5"/><text class="m" x="621" y="31">9.25</text><text x="708" y="4">13<tspan x="708" y="21.5">14.5</tspan><tspan x="708" y="39">17</tspan></text><text class="e" x="874" y="6">13.91<tspan x="874" y="23.5">12.83</tspan><tspan x="874" y="41">11.02</tspan></text><text class="e" x="1010" y="4">0.37103<tspan x="1010" y="21.5">0.34797</tspan><tspan x="1010" y="39">0.30742</tspan></text><text class="e" x="1091" y="4">0.002898647<tspan x="1091" y="21.5">0.005437051</tspan><tspan x="1091" y="39">0.002401729</tspan></text></g>
<g id="p40" transform="translate(0 2813)"><circle class="nd" cx="648" cy="27" r="4.5"/><text class="m" x="621" y="31">9.5</text><text x="708" y="4">13<tspan x="708" y="21.5">14.5</tspan><tspan x="708" y="39">17</tspan></text><text class="e" x="874" y="6">10.03<tspan x="874" y="23.5">8.95</tspan><tspan x="874" y="41">7.14</tspan></text><text class="e" x="1010" y="4">0.28418<tspan x="1010" y="21.5">0.25795</tspan><tspan x="1010" y="39">0.21180</tspan></text><text class="e" x="1091" y="4">0.004440388<tspan x="1091" y="21.5">0.008060814</tspan><tspan x="1091" y="39">0.003309333</tspan></text></g>
<g id="p41" transform="translate(0 2882)"><circle class="nd" cx="648" cy="27" r="4.5"/><text class="m" x="621" y="31">9.75</text><text x="708" y="4">13<tspan x="708" y="21.5">14.5</tspan><tspan x="708" y="39">17</tspan></text><text class="e" x="874" y="6">6.15<tspan x="874" y="23.5">5.07</tspan><tspan x="874" y="41">3.27</tspan></text><text class="e" x="1010" y="4">0.18535<tspan x="1010" y="21.5">0.15549</tspan><tspan x="1010" y="39">0.10327</tspan></text><text class="e" x="1091" y="4">0.001448068<tspan x="1091" y="21.5">0.002429548</tspan><tspan x="1091" y="39">0.000806794</tspan></text></g>
<g id="p42" transform="translate(0 2951)"><circle class="nd" cx="648" cy="27" r="4.5"/><text class="m" x="621" y="31">9.25</text><text x="708" y="4">13<tspan x="708" y="21.5">14.5</tspan><tspan x="708" y="39">17</tspan></text><text class="e" x="874" y="6">25.54<tspan x="874" y="23.5">24.46</tspan><tspan x="874" y="41">22.66</tspan></text><text class="e" x="1010" y="4">0.57315<tspan x="1010" y="21.5">0.55751</tspan><tspan x="1010" y="39">0.53015</tspan></text><text class="e" x="1091" y="4">0.002238885<tspan x="1091" y="21.5">0.004355533</tspan><tspan x="1091" y="39">0.002070883</tspan></text></g>
<g id="p43" transform="translate(0 3020)"><circle class="nd" cx="648" cy="27" r="4.5"/><text class="m" x="621" y="31">9.5</text><text x="708" y="4">13<tspan x="708" y="21.5">14.5</tspan><tspan x="708" y="39">17</tspan></text><text class="e" x="874" y="6">21.67<tspan x="874" y="23.5">20.58</tspan><tspan x="874" y="41">18.78</tspan></text><text class="e" x="1010" y="4">0.51438<tspan x="1010" y="21.5">0.49641</tspan><tspan x="1010" y="39">0.46527</tspan></text><text class="e" x="1091" y="4">0.004018611<tspan x="1091" y="21.5">0.007756463</tspan><tspan x="1091" y="39">0.00363495</tspan></text></g>
<g id="p44" transform="translate(0 3089)"><circle class="nd" cx="648" cy="27" r="4.5"/><text class="m" x="621" y="31">9.75</text><text x="708" y="4">13<tspan x="708" y="21.5">14.5</tspan><tspan x="708" y="39">17</tspan></text><text class="e" x="874" y="6">17.79<tspan x="874" y="23.5">16.7</tspan><tspan x="874" y="41">14.9</tspan></text><text class="e" x="1010" y="4">0.44733<tspan x="1010" y="21.5">0.42688</tspan><tspan x="1010" y="39">0.39144</tspan></text><text class="e" x="1091" y="4">0.001747395<tspan x="1091" y="21.5">0.003335029</tspan><tspan x="1091" y="39">0.001529079</tspan></text></g>
<g id="p45" transform="translate(0 3158)"><circle class="nd" cx="648" cy="27" r="4.5"/><text class="m" x="621" y="31">9.25</text><text x="708" y="4">13<tspan x="708" y="21.5">14.5</tspan><tspan x="708" y="39">17</tspan></text><text class="e" x="874" y="6">-0.96<tspan x="874" y="23.5">-2.04</tspan><tspan x="874" y="41">-3.84</tspan></text><text class="e" x="1010" y="4">-0.03252<tspan x="1010" y="21.5">-0.07037</tspan><tspan x="1010" y="39">-0.13655</tspan></text><text class="e" x="1091" y="4">-6.35108E-05<tspan x="1091" y="21.5">-0.000274864</tspan><tspan x="1091" y="39">-0.000266705</tspan></text></g>
<g id="p46" transform="translate(0 3228)"><circle class="nd" cx="648" cy="27" r="4.5"/><text class="m" x="621" y="31">9.5</text><text x="708" y="4">13<tspan x="708" y="21.5">14.5</tspan><tspan x="708" y="39">17</tspan></text><text class="e" x="874" y="6">-5.16<tspan x="874" y="23.5">-6.24</tspan><tspan x="874" y="41">-8.05</tspan></text><text class="e" x="1010" y="4">-0.18768<tspan x="1010" y="21.5">-0.23121</tspan><tspan x="1010" y="39">-0.30778</tspan></text><text class="e" x="1091" y="4">-0.000733117<tspan x="1091" y="21.5">-0.001806353</tspan><tspan x="1091" y="39">-0.001202277</tspan></text></g>
<g id="p47" transform="translate(0 3297)"><circle class="nd" cx="648" cy="27" r="4.5"/><text class="m" x="621" y="31">9.75</text><text x="708" y="4">13<tspan x="708" y="21.5">14.5</tspan><tspan x="708" y="39">17</tspan></text><text class="e" x="874" y="6">-9.37<tspan x="874" y="23.5">-10.45</tspan><tspan x="874" y="41">-12.25</tspan></text><text class="e" x="1010" y="4">-0.36661<tspan x="1010" y="21.5">-0.41670</tspan><tspan x="1010" y="39">-0.50431</tspan></text><text class="e" x="1091" y="4">-0.000716035<tspan x="1091" y="21.5">-0.001627752</tspan><tspan x="1091" y="39">-0.000984978</tspan></text></g>
<g id="p48" transform="translate(0 3366)"><circle class="nd" cx="648" cy="27" r="4.5"/><text class="m" x="621" y="31">9.25</text><text x="708" y="4">13<tspan x="708" y="21.5">14.5</tspan><tspan x="708" y="39">17</tspan></text><text class="e" x="874" y="6">15.86<tspan x="874" y="23.5">14.78</tspan><tspan x="874" y="41">12.98</tspan></text><text class="e" x="1010" y="4">0.41061<tspan x="1010" y="21.5">0.38901</tspan><tspan x="1010" y="39">0.35122</tspan></text><text class="e" x="1091" y="4">0.001603944<tspan x="1091" y="21.5">0.003039102</tspan><tspan x="1091" y="39">0.001371966</tspan></text></g>
<g id="p49" transform="translate(0 3435)"><circle class="nd" cx="648" cy="27" r="4.5"/><text class="m" x="621" y="31">9.5</text><text x="708" y="4">13<tspan x="708" y="21.5">14.5</tspan><tspan x="708" y="39">17</tspan></text><text class="e" x="874" y="6">11.66<tspan x="874" y="23.5">10.58</tspan><tspan x="874" y="41">8.78</tspan></text><text class="e" x="1010" y="4">0.32204<tspan x="1010" y="21.5">0.29719</tspan><tspan x="1010" y="39">0.25373</tspan></text><text class="e" x="1091" y="4">0.002515936<tspan x="1091" y="21.5">0.004643571</tspan><tspan x="1091" y="39">0.001982259</tspan></text></g>
<g id="p50" transform="translate(0 3504)"><circle class="nd" cx="648" cy="27" r="4.5"/><text class="m" x="621" y="31">9.75</text><text x="708" y="4">13<tspan x="708" y="21.5">14.5</tspan><tspan x="708" y="39">17</tspan></text><text class="e" x="874" y="6">7.45<tspan x="874" y="23.5">6.37</tspan><tspan x="874" y="41">4.57</tspan></text><text class="e" x="1010" y="4">0.21990<tspan x="1010" y="21.5">0.19130</tspan><tspan x="1010" y="39">0.14130</tspan></text><text class="e" x="1091" y="4">0.000858985<tspan x="1091" y="21.5">0.00149457</tspan><tspan x="1091" y="39">0.000551945</tspan></text></g>
<g id="p51" transform="translate(0 3573)"><circle class="nd" cx="648" cy="27" r="4.5"/><text class="m" x="621" y="31">9.25</text><text x="708" y="4">13<tspan x="708" y="21.5">14.5</tspan><tspan x="708" y="39">17</tspan></text><text class="e" x="874" y="6">28.48<tspan x="874" y="23.5">27.4</tspan><tspan x="874" y="41">25.6</tspan></text><text class="e" x="1010" y="4">0.61300<tspan x="1010" y="21.5">0.59882</tspan><tspan x="1010" y="39">0.57401</tspan></text><text class="e" x="1091" y="4">0.001197268<tspan x="1091" y="21.5">0.002339122</tspan><tspan x="1091" y="39">0.001121108</tspan></text></g>
<g id="p52" transform="translate(0 3642)"><circle class="nd" cx="648" cy="27" r="4.5"/><text class="m" x="621" y="31">9.5</text><text x="708" y="4">13<tspan x="708" y="21.5">14.5</tspan><tspan x="708" y="39">17</tspan></text><text class="e" x="874" y="6">24.27<tspan x="874" y="23.5">23.19</tspan><tspan x="874" y="41">21.39</tspan></text><text class="e" x="1010" y="4">0.55470<tspan x="1010" y="21.5">0.53837</tspan><tspan x="1010" y="39">0.50983</tspan></text><text class="e" x="1091" y="4">0.002166785<tspan x="1091" y="21.5">0.004206046</tspan><tspan x="1091" y="39">0.001991518</tspan></text></g>
<g id="p53" transform="translate(0 3711)"><circle class="nd" cx="648" cy="27" r="4.5"/><text class="m" x="621" y="31">9.75</text><text x="708" y="4">13<tspan x="708" y="21.5">14.5</tspan><tspan x="708" y="39">17</tspan></text><text class="e" x="874" y="6">20.07<tspan x="874" y="23.5">18.99</tspan><tspan x="874" y="41">17.19</tspan></text><text class="e" x="1010" y="4">0.48778<tspan x="1010" y="21.5">0.46900</tspan><tspan x="1010" y="39">0.43617</tspan></text><text class="e" x="1091" y="4">0.000952694<tspan x="1091" y="21.5">0.001832045</tspan><tspan x="1091" y="39">0.000851892</tspan></text></g>
<g id="p54" transform="translate(0 3780)"><circle class="nd" cx="648" cy="27" r="4.5"/><text class="m" x="621" y="31">9.25</text><text x="708" y="4">13<tspan x="708" y="21.5">14.5</tspan><tspan x="708" y="39">17</tspan></text><text class="e" x="874" y="6">1.5<tspan x="874" y="23.5">0.42</tspan><tspan x="874" y="41">-1.38</tspan></text><text class="e" x="1010" y="4">0.04877<tspan x="1010" y="21.5">0.01390</tspan><tspan x="1010" y="39">-0.04707</tspan></text><text class="e" x="1091" y="4">4.76275E-05<tspan x="1091" y="21.5">2.71532E-05</tspan><tspan x="1091" y="39">-4.59711E-05</tspan></text></g>
<g id="p55" transform="translate(0 3849)"><circle class="nd" cx="648" cy="27" r="4.5"/><text class="m" x="621" y="31">9.5</text><text x="708" y="4">13<tspan x="708" y="21.5">14.5</tspan><tspan x="708" y="39">17</tspan></text><text class="e" x="874" y="6">-3.93<tspan x="874" y="23.5">-5.01</tspan><tspan x="874" y="41">-6.82</tspan></text><text class="e" x="1010" y="4">-0.13997<tspan x="1010" y="21.5">-0.18175</tspan><tspan x="1010" y="39">-0.25525</tspan></text><text class="e" x="1091" y="4">-0.000273375<tspan x="1091" y="21.5">-0.000709978</tspan><tspan x="1091" y="39">-0.000498532</tspan></text></g>
<g id="p56" transform="translate(0 3918)"><circle class="nd" cx="648" cy="27" r="4.5"/><text class="m" x="621" y="31">9.75</text><text x="708" y="4">13<tspan x="708" y="21.5">14.5</tspan><tspan x="708" y="39">17</tspan></text><text class="e" x="874" y="6">-9.37<tspan x="874" y="23.5">-10.45</tspan><tspan x="874" y="41">-12.25</tspan></text><text class="e" x="1010" y="4">-0.36661<tspan x="1010" y="21.5">-0.41670</tspan><tspan x="1010" y="39">-0.50431</tspan></text><text class="e" x="1091" y="4">-0.000358018<tspan x="1091" y="21.5">-0.000813876</tspan><tspan x="1091" y="39">-0.000492489</tspan></text></g>
<g id="p57" transform="translate(0 3987)"><circle class="nd" cx="648" cy="27" r="4.5"/><text class="m" x="621" y="31">9.25</text><text x="708" y="4">13<tspan x="708" y="21.5">14.5</tspan><tspan x="708" y="39">17</tspan></text><text class="e" x="874" y="6">23.24<tspan x="874" y="23.5">22.16</tspan><tspan x="874" y="41">20.36</tspan></text><text class="e" x="1010" y="4">0.53914<tspan x="1010" y="21.5">0.52225</tspan><tspan x="1010" y="39">0.49271</tspan></text><text class="e" x="1091" y="4">0.001053013<tspan x="1091" y="21.5">0.002040037</tspan><tspan x="1091" y="39">0.000962318</tspan></text></g>
<g id="p58" transform="translate(0 4056)"><circle class="nd" cx="648" cy="27" r="4.5"/><text class="m" x="621" y="31">9.5</text><text x="708" y="4">13<tspan x="708" y="21.5">14.5</tspan><tspan x="708" y="39">17</tspan></text><text class="e" x="874" y="6">17.81<tspan x="874" y="23.5">16.73</tspan><tspan x="874" y="41">14.93</tspan></text><text class="e" x="1010" y="4">0.44770<tspan x="1010" y="21.5">0.42746</tspan><tspan x="1010" y="39">0.39205</tspan></text><text class="e" x="1091" y="4">0.001748834<tspan x="1091" y="21.5">0.003339504</tspan><tspan x="1091" y="39">0.001531455</tspan></text></g>
<g id="p59" transform="translate(0 4125)"><circle class="nd" cx="648" cy="27" r="4.5"/><text class="m" x="621" y="31">9.75</text><text x="708" y="4">13<tspan x="708" y="21.5">14.5</tspan><tspan x="708" y="39">17</tspan></text><text class="e" x="874" y="6">12.37<tspan x="874" y="23.5">11.29</tspan><tspan x="874" y="41">9.49</tspan></text><text class="e" x="1010" y="4">0.33790<tspan x="1010" y="21.5">0.31363</tspan><tspan x="1010" y="39">0.27118</tspan></text><text class="e" x="1091" y="4">0.000659954<tspan x="1091" y="21.5">0.001225104</tspan><tspan x="1091" y="39">0.000529655</tspan></text></g>
<g id="p60" transform="translate(0 4194)"><circle class="nd" cx="648" cy="27" r="4.5"/><text class="m" x="621" y="31">9.25</text><text x="708" y="4">13<tspan x="708" y="21.5">14.5</tspan><tspan x="708" y="39">17</tspan></text><text class="e" x="874" y="6">39.55<tspan x="874" y="23.5">38.47</tspan><tspan x="874" y="41">36.67</tspan></text><text class="e" x="1010" y="4">0.73242<tspan x="1010" y="21.5">0.72261</tspan><tspan x="1010" y="39">0.70546</tspan></text><text class="e" x="1091" y="4">0.000715253<tspan x="1091" y="21.5">0.001411349</tspan><tspan x="1091" y="39">0.000688924</tspan></text></g>
<g id="p61" transform="translate(0 4263)"><circle class="nd" cx="648" cy="27" r="4.5"/><text class="m" x="621" y="31">9.5</text><text x="708" y="4">13<tspan x="708" y="21.5">14.5</tspan><tspan x="708" y="39">17</tspan></text><text class="e" x="874" y="6">34.11<tspan x="874" y="23.5">33.03</tspan><tspan x="874" y="41">31.23</tspan></text><text class="e" x="1010" y="4">0.67922<tspan x="1010" y="21.5">0.66746</tspan><tspan x="1010" y="39">0.64690</tspan></text><text class="e" x="1091" y="4">0.001326602<tspan x="1091" y="21.5">0.002607272</tspan><tspan x="1091" y="39">0.001263474</tspan></text></g>
<g id="p62" transform="translate(0 4332)"><circle class="nd" cx="648" cy="27" r="4.5"/><text class="m" x="621" y="31">9.75</text><text x="708" y="4">13<tspan x="708" y="21.5">14.5</tspan><tspan x="708" y="39">17</tspan></text><text class="e" x="874" y="6">28.68<tspan x="874" y="23.5">27.6</tspan><tspan x="874" y="41">25.8</tspan></text><text class="e" x="1010" y="4">0.61557<tspan x="1010" y="21.5">0.60148</tspan><tspan x="1010" y="39">0.57684</tspan></text><text class="e" x="1091" y="4">0.000601145<tspan x="1091" y="21.5">0.001174767</tspan><tspan x="1091" y="39">0.000563318</tspan></text></g>
<g id="p63" transform="translate(0 4401)"><circle class="nd" cx="648" cy="27" r="4.5"/><text class="m" x="621" y="31">9.25</text><text x="708" y="4">13<tspan x="708" y="21.5">14.5</tspan><tspan x="708" y="39">17</tspan></text><text class="e" x="874" y="6">7.7<tspan x="874" y="23.5">6.62</tspan><tspan x="874" y="41">4.82</tspan></text><text class="e" x="1010" y="4">0.22637<tspan x="1010" y="21.5">0.19802</tspan><tspan x="1010" y="39">0.14842</tspan></text><text class="e" x="1091" y="4">0.000442137<tspan x="1091" y="21.5">0.0007735</tspan><tspan x="1091" y="39">0.000289891</tspan></text></g>
<g id="p64" transform="translate(0 4470)"><circle class="nd" cx="648" cy="27" r="4.5"/><text class="m" x="621" y="31">9.5</text><text x="708" y="4">13<tspan x="708" y="21.5">14.5</tspan><tspan x="708" y="39">17</tspan></text><text class="e" x="874" y="6">-0.83<tspan x="874" y="23.5">-1.92</tspan><tspan x="874" y="41">-3.72</tspan></text><text class="e" x="1010" y="4">-0.02805<tspan x="1010" y="21.5">-0.06609</tspan><tspan x="1010" y="39">-0.13202</tspan></text><text class="e" x="1091" y="4">-0.000109582<tspan x="1091" y="21.5">-0.000516347</tspan><tspan x="1091" y="39">-0.000515687</tspan></text></g>
<g id="p65" transform="translate(0 4539)"><circle class="nd" cx="648" cy="27" r="4.5"/><text class="m" x="621" y="31">9.75</text><text x="708" y="4">13<tspan x="708" y="21.5">14.5</tspan><tspan x="708" y="39">17</tspan></text><text class="e" x="874" y="6">-9.37<tspan x="874" y="23.5">-10.45</tspan><tspan x="874" y="41">-12.25</tspan></text><text class="e" x="1010" y="4">-0.36661<tspan x="1010" y="21.5">-0.41670</tspan><tspan x="1010" y="39">-0.50431</tspan></text><text class="e" x="1091" y="4">-0.000716035<tspan x="1091" y="21.5">-0.001627752</tspan><tspan x="1091" y="39">-0.000984978</tspan></text></g>
<g id="p66" transform="translate(0 4608)"><circle class="nd" cx="648" cy="27" r="4.5"/><text class="m" x="621" y="31">9.25</text><text x="708" y="4">13<tspan x="708" y="21.5">14.5</tspan><tspan x="708" y="39">17</tspan></text><text class="e" x="874" y="6">41.84<tspan x="874" y="23.5">40.76</tspan><tspan x="874" y="41">38.95</tspan></text><text class="e" x="1010" y="4">0.75208<tspan x="1010" y="21.5">0.74300</tspan><tspan x="1010" y="39">0.72701</tspan></text><text class="e" x="1091" y="4">0.002937829<tspan x="1091" y="21.5">0.005804662</tspan><tspan x="1091" y="39">0.002839897</tspan></text></g>
<g id="p67" transform="translate(0 4677)"><circle class="nd" cx="648" cy="27" r="4.5"/><text class="m" x="621" y="31">9.5</text><text x="708" y="4">13<tspan x="708" y="21.5">14.5</tspan><tspan x="708" y="39">17</tspan></text><text class="e" x="874" y="6">33.3<tspan x="874" y="23.5">32.22</tspan><tspan x="874" y="41">30.42</tspan></text><text class="e" x="1010" y="4">0.67044<tspan x="1010" y="21.5">0.65836</tspan><tspan x="1010" y="39">0.63723</tspan></text><text class="e" x="1091" y="4">0.005237821<tspan x="1091" y="21.5">0.010286887</tspan><tspan x="1091" y="39">0.004978398</tspan></text></g>
<g id="p68" transform="translate(0 4746)"><circle class="nd" cx="648" cy="27" r="4.5"/><text class="m" x="621" y="31">9.75</text><text x="708" y="4">13<tspan x="708" y="21.5">14.5</tspan><tspan x="708" y="39">17</tspan></text><text class="e" x="874" y="6">24.77<tspan x="874" y="23.5">23.69</tspan><tspan x="874" y="41">21.89</tspan></text><text class="e" x="1010" y="4">0.56206<tspan x="1010" y="21.5">0.54600</tspan><tspan x="1010" y="39">0.51793</tspan></text><text class="e" x="1091" y="4">0.002195535<tspan x="1091" y="21.5">0.004265655</tspan><tspan x="1091" y="39">0.002023165</tspan></text></g>
<g id="p69" transform="translate(0 4815)"><circle class="nd" cx="648" cy="27" r="4.5"/><text class="m" x="621" y="31">9.25</text><text x="708" y="4">13<tspan x="708" y="21.5">14.5</tspan><tspan x="708" y="39">17</tspan></text><text class="e" x="874" y="6">67.44<tspan x="874" y="23.5">66.36</tspan><tspan x="874" y="41">64.56</tspan></text><text class="e" x="1010" y="4">0.89439<tspan x="1010" y="21.5">0.89052</tspan><tspan x="1010" y="39">0.88375</tspan></text><text class="e" x="1091" y="4">0.001746855<tspan x="1091" y="21.5">0.003478588</tspan><tspan x="1091" y="39">0.001726071</tspan></text></g>
<g id="p70" transform="translate(0 4884)"><circle class="nd" cx="648" cy="27" r="4.5"/><text class="m" x="621" y="31">9.5</text><text x="708" y="4">13<tspan x="708" y="21.5">14.5</tspan><tspan x="708" y="39">17</tspan></text><text class="e" x="874" y="6">58.91<tspan x="874" y="23.5">57.83</tspan><tspan x="874" y="41">56.02</tspan></text><text class="e" x="1010" y="4">0.85966<tspan x="1010" y="21.5">0.85451</tspan><tspan x="1010" y="39">0.84546</tspan></text><text class="e" x="1091" y="4">0.003358036<tspan x="1091" y="21.5">0.006675881</tspan><tspan x="1091" y="39">0.003302597</tspan></text></g>
<g id="p71" transform="translate(0 4953)"><circle class="nd" cx="648" cy="27" r="4.5"/><text class="m" x="621" y="31">9.75</text><text x="708" y="4">13<tspan x="708" y="21.5">14.5</tspan><tspan x="708" y="39">17</tspan></text><text class="e" x="874" y="6">50.37<tspan x="874" y="23.5">49.29</tspan><tspan x="874" y="41">47.49</tspan></text><text class="e" x="1010" y="4">0.81344<tspan x="1010" y="21.5">0.80660</tspan><tspan x="1010" y="39">0.79464</tspan></text><text class="e" x="1091" y="4">0.001588749<tspan x="1091" y="21.5">0.003150785</tspan><tspan x="1091" y="39">0.001552035</tspan></text></g>
<g id="p72" transform="translate(0 5022)"><circle class="nd" cx="648" cy="27" r="4.5"/><text class="m" x="621" y="31">9.25</text><text x="708" y="4">13<tspan x="708" y="21.5">14.5</tspan><tspan x="708" y="39">17</tspan></text><text class="e" x="874" y="6">9.14<tspan x="874" y="23.5">8.05</tspan><tspan x="874" y="41">6.25</tspan></text><text class="e" x="1010" y="4">0.26263<tspan x="1010" y="21.5">0.23535</tspan><tspan x="1010" y="39">0.18806</tspan></text><text class="e" x="1091" y="4">0.000256475<tspan x="1091" y="21.5">0.000459662</tspan><tspan x="1091" y="39">0.000183656</tspan></text></g>
<g id="p73" transform="translate(0 5091)"><circle class="nd" cx="648" cy="27" r="4.5"/><text class="m" x="621" y="31">9.5</text><text x="708" y="4">13<tspan x="708" y="21.5">14.5</tspan><tspan x="708" y="39">17</tspan></text><text class="e" x="874" y="6">-0.12<tspan x="874" y="23.5">-1.2</tspan><tspan x="874" y="41">-3</tspan></text><text class="e" x="1010" y="4">-0.00401<tspan x="1010" y="21.5">-0.04081</tspan><tspan x="1010" y="39">-0.10517</tspan></text><text class="e" x="1091" y="4">-7.82815E-06<tspan x="1091" y="21.5">-0.000159417</tspan><tspan x="1091" y="39">-0.000205412</tspan></text></g>
<g id="p74" transform="translate(0 5160)"><circle class="nd" cx="648" cy="27" r="4.5"/><text class="m" x="621" y="31">9.75</text><text x="708" y="4">13<tspan x="708" y="21.5">14.5</tspan><tspan x="708" y="39">17</tspan></text><text class="e" x="874" y="6">-9.37<tspan x="874" y="23.5">-10.45</tspan><tspan x="874" y="41">-12.25</tspan></text><text class="e" x="1010" y="4">-0.36661<tspan x="1010" y="21.5">-0.41670</tspan><tspan x="1010" y="39">-0.50431</tspan></text><text class="e" x="1091" y="4">-0.000358018<tspan x="1091" y="21.5">-0.000813876</tspan><tspan x="1091" y="39">-0.000492489</tspan></text></g>
<g id="p75" transform="translate(0 5229)"><circle class="nd" cx="648" cy="27" r="4.5"/><text class="m" x="621" y="31">9.25</text><text x="708" y="4">13<tspan x="708" y="21.5">14.5</tspan><tspan x="708" y="39">17</tspan></text><text class="e" x="874" y="6">46.14<tspan x="874" y="23.5">45.06</tspan><tspan x="874" y="41">43.26</tspan></text><text class="e" x="1010" y="4">0.78519<tspan x="1010" y="21.5">0.77732</tspan><tspan x="1010" y="39">0.76355</tspan></text><text class="e" x="1091" y="4">0.001533574<tspan x="1091" y="21.5">0.003036389</tspan><tspan x="1091" y="39">0.0014913</tspan></text></g>
<g id="p76" transform="translate(0 5298)"><circle class="nd" cx="648" cy="27" r="4.5"/><text class="m" x="621" y="31">9.5</text><text x="708" y="4">13<tspan x="708" y="21.5">14.5</tspan><tspan x="708" y="39">17</tspan></text><text class="e" x="874" y="6">36.89<tspan x="874" y="23.5">35.81</tspan><tspan x="874" y="41">34.01</tspan></text><text class="e" x="1010" y="4">0.70761<tspan x="1010" y="21.5">0.69689</tspan><tspan x="1010" y="39">0.67815</tspan></text><text class="e" x="1091" y="4">0.002764101<tspan x="1091" y="21.5">0.00544447</tspan><tspan x="1091" y="39">0.00264902</tspan></text></g>
<g id="p77" transform="translate(0 5367)"><circle class="nd" cx="648" cy="27" r="4.5"/><text class="m" x="621" y="31">9.75</text><text x="708" y="4">13<tspan x="708" y="21.5">14.5</tspan><tspan x="708" y="39">17</tspan></text><text class="e" x="874" y="6">27.64<tspan x="874" y="23.5">26.56</tspan><tspan x="874" y="41">24.76</tspan></text><text class="e" x="1010" y="4">0.60201<tspan x="1010" y="21.5">0.58742</tspan><tspan x="1010" y="39">0.56191</tspan></text><text class="e" x="1091" y="4">0.001175805<tspan x="1091" y="21.5">0.002294623</tspan><tspan x="1091" y="39">0.001097483</tspan></text></g>
<g id="p78" transform="translate(0 5436)"><circle class="nd" cx="648" cy="27" r="4.5"/><text class="m" x="621" y="31">9.25</text><text x="708" y="4">13<tspan x="708" y="21.5">14.5</tspan><tspan x="708" y="39">17</tspan></text><text class="e" x="874" y="6">73.9<tspan x="874" y="23.5">72.82</tspan><tspan x="874" y="41">71.02</tspan></text><text class="e" x="1010" y="4">0.91485<tspan x="1010" y="21.5">0.91173</tspan><tspan x="1010" y="39">0.90627</tspan></text><text class="e" x="1091" y="4">0.000893408<tspan x="1091" y="21.5">0.001780719</tspan><tspan x="1091" y="39">0.000885029</tspan></text></g>
<g id="p79" transform="translate(0 5505)"><circle class="nd" cx="648" cy="27" r="4.5"/><text class="m" x="621" y="31">9.5</text><text x="708" y="4">13<tspan x="708" y="21.5">14.5</tspan><tspan x="708" y="39">17</tspan></text><text class="e" x="874" y="6">64.65<tspan x="874" y="23.5">63.57</tspan><tspan x="874" y="41">61.76</tspan></text><text class="e" x="1010" y="4">0.88410<tspan x="1010" y="21.5">0.87985</tspan><tspan x="1010" y="39">0.87238</tspan></text><text class="e" x="1091" y="4">0.001726752<tspan x="1091" y="21.5">0.003436907</tspan><tspan x="1091" y="39">0.001703859</tspan></text></g>
<g id="p80" transform="translate(0 5574)"><circle class="nd" cx="648" cy="27" r="4.5"/><text class="m" x="621" y="31">9.75</text><text x="708" y="4">13<tspan x="708" y="21.5">14.5</tspan><tspan x="708" y="39">17</tspan></text><text class="e" x="874" y="6">55.4<tspan x="874" y="23.5">54.31</tspan><tspan x="874" y="41">52.51</tspan></text><text class="e" x="1010" y="4">0.84224<tspan x="1010" y="21.5">0.83640</tspan><tspan x="1010" y="39">0.82628</tspan></text><text class="e" x="1091" y="4">0.000822498<tspan x="1091" y="21.5">0.001633595</tspan><tspan x="1091" y="39">0.000806918</tspan></text></g>
</g>
</svg>
